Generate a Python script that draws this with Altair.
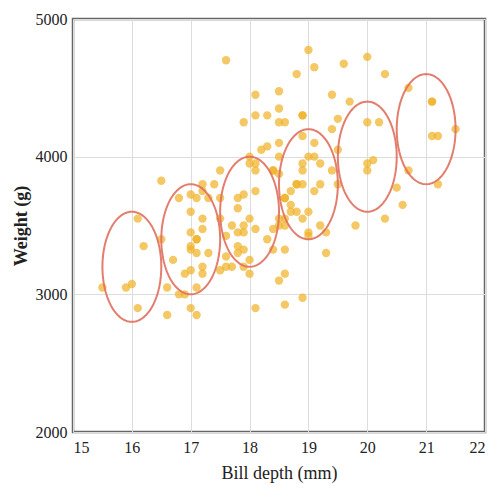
import altair as alt
import numpy as np
import pandas as pd

bill_depth = [18.7, 17.4, 18.0, 19.3, 20.6, 17.8, 19.6, 18.1, 20.2, 17.1, 17.3, 17.6, 21.2, 21.1, 17.8, 19.0, 20.7, 18.4, 21.5, 18.3,
              18.7, 19.2, 18.1, 17.2, 18.9, 18.6, 17.9, 18.6, 18.9, 16.7, 18.1, 17.8, 18.9, 17.0, 21.1, 20.0, 18.5, 19.3, 19.1, 18.0,
              18.4, 18.5, 19.7, 16.9, 18.8, 19.0, 18.9, 17.9, 21.2, 17.7, 18.9, 17.9, 19.5, 18.1, 18.6, 17.5, 18.8, 16.6, 19.1, 16.9,
              21.1, 17.0, 18.2, 17.1, 18.0, 16.2, 19.1, 16.6, 19.4, 19.0, 18.4, 17.2, 18.9, 17.5, 18.5, 16.8, 19.4, 16.1, 19.1, 17.2,
              17.6, 18.8, 19.4, 17.8, 20.3, 19.5, 18.6, 19.2, 18.8, 18.0, 18.1, 17.1, 18.1, 17.3, 18.9, 18.6, 18.5, 16.1, 18.5, 17.9,
              20.0, 16.0, 20.0, 18.6, 18.9, 17.2, 20.0, 17.0, 19.0, 16.5, 20.3, 17.7, 19.5, 20.7, 18.3, 17.0, 20.5, 17.0, 18.6, 17.2,
              19.8, 17.0, 18.5, 15.9, 19.0, 17.6, 18.3, 17.1, 18.0, 17.9, 19.2, 18.5, 18.5, 17.6, 17.5, 17.5, 20.1, 16.5, 17.9, 17.1,
              17.2, 15.5, 17.0, 16.8, 18.7, 18.6, 18.4, 17.8, 18.1, 17.1, 18.5]
body_mass = [3750, 3800, 3250, 3450, 3650, 3625, 4675, 3475, 4250, 3300, 3700, 3200, 3800, 4400, 3700, 3450, 4500, 3325, 4200, 3400,
             3600, 3800, 3950, 3800, 3800, 3550, 3200, 3150, 3950, 3250, 3900, 3300, 3900, 3325, 4150, 3950, 3550, 3300, 4650, 3150,
             3900, 3100, 4400, 3000, 4600, 3425, 2975, 3500, 4150, 3500, 4300, 3450, 4050, 2900, 3700, 3550, 3800, 2850, 3750, 3150,
             4400, 3600, 4050, 2850, 3950, 3350, 4100, 3050, 4450, 3600, 3900, 3550, 4150, 3700, 4250, 3700, 3900, 3550, 4000, 3200,
             4700, 3800, 4200, 3350, 3550, 3800, 3500, 3950, 3600, 3550, 4300, 3400, 4450, 3300, 4300, 3700, 4350, 2900, 4100, 3725,
             4725, 3075, 4250, 2925, 3550, 3750, 3900, 3175, 4775, 3825, 4600, 3200, 4275, 3900, 4075, 2900, 3775, 3350, 3325, 3150,
             3500, 3450, 3875, 3050, 4000, 3275, 4300, 3050, 4000, 3325, 3500, 3500, 4475, 3425, 3900, 3175, 3975, 3400, 4250, 3400,
             3475, 3050, 3725, 3000, 3650, 4250, 3475, 3450, 3750, 3700, 4000]

ellipse_cx = [16, 17, 18, 19, 20, 21]
ellipse_cy = [3200, 3400, 3600, 3800, 4000, 4200]
ellipse_rx = [0.5, 0.5, 0.5, 0.5, 0.5, 0.5]
ellipse_ry = [400, 400, 400, 400, 400, 400]

points = pd.DataFrame({"depth": bill_depth, "mass": body_mass})

t = np.linspace(0, 2 * np.pi, 121)
rows = []
for i, (cx, cy, rx, ry) in enumerate(zip(ellipse_cx, ellipse_cy, ellipse_rx, ellipse_ry)):
    for k, tt in enumerate(t):
        rows.append({"id": i, "order": k, "depth": cx + rx * np.cos(tt), "mass": cy + ry * np.sin(tt)})
ell = pd.DataFrame(rows)

FONT = "Liberation Serif"

xscale = alt.Scale(domain=[15, 22], nice=False, zero=False)
yscale = alt.Scale(domain=[2000, 5000], nice=False, zero=False)

xaxis = alt.Axis(title="Bill depth (mm)", values=[15, 16, 17, 18, 19, 20, 21, 22], format="d", ticks=False, domain=False,
                 gridColor="#dddddd", labelFont=FONT, labelFontSize=16, labelColor="#222", labelPadding=7,
                 titleFont=FONT, titleFontSize=18, titleFontWeight="normal", titleColor="#222", titlePadding=9)
yaxis = alt.Axis(title="Weight (g)", values=[2000, 3000, 4000, 5000], format="d", ticks=False, domain=False,
                 gridColor="#dddddd", labelFont=FONT, labelFontSize=16, labelColor="#222", labelPadding=6,
                 titleFont=FONT, titleFontSize=18, titleFontWeight="bold", titleColor="#222", titlePadding=5)

pts = alt.Chart(points).mark_circle(size=70, color="#efb024", opacity=0.7).encode(
    x=alt.X("depth:Q", scale=xscale, axis=xaxis),
    y=alt.Y("mass:Q", scale=yscale, axis=yaxis),
)

lines = alt.Chart(ell).mark_line(color="#e0705e", strokeWidth=2, opacity=0.9).encode(
    x=alt.X("depth:Q", scale=xscale),
    y=alt.Y("mass:Q", scale=yscale),
    detail="id:N",
    order="order:Q",
)

chart = alt.layer(pts, lines).properties(
    width=412, height=413,
    autosize=alt.AutoSizeParams(type="none"),
    padding={"left": 65, "top": 11, "right": 9, "bottom": 57},
).configure_view(stroke="#666666", strokeWidth=2.5)

chart.save("out.html", embed_options={"renderer": "svg", "actions": False})
